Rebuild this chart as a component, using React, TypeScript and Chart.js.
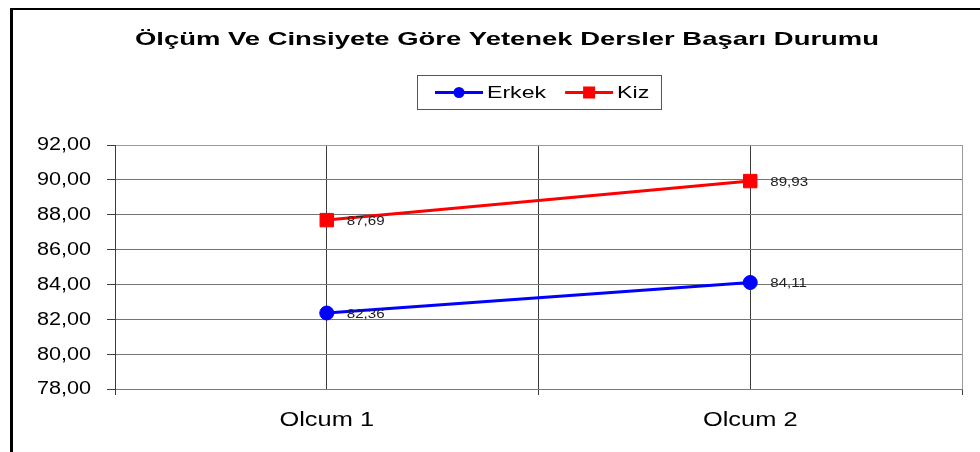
import React, { useEffect, useRef } from 'react';
import { Chart, registerables } from 'chart.js';

Chart.register(...registerables);

// ---- data ----
const TITLE = 'Ölçüm Ve Cinsiyete Göre Yetenek Dersler Başarı Durumu';
const CATEGORIES = ['Olcum 1', 'Olcum 2'];
const SERIES_NAMES = ['Erkek', 'Kiz'];
const ERKEK = [82.36, 84.11];
const KIZ = [87.69, 89.93];
const Y_MIN = 78;
const Y_MAX = 92;
const Y_STEP = 2;

// ---- style ----
const FONT = '"Liberation Sans", Arial, Helvetica, sans-serif';
const BLUE = '#0000ff';
const RED = '#ff0000';
const W = 980;
const H = 452;

const fmt = (v: number) => v.toFixed(2).replace('.', ',');

// text drawn with a horizontal stretch (the reference uses wide, stretched glyphs)
function drawText(
  ctx: CanvasRenderingContext2D,
  text: string,
  x: number,
  y: number,
  font: string,
  sx: number,
  align: CanvasTextAlign,
  color: string
) {
  ctx.save();
  ctx.font = font;
  ctx.fillStyle = color;
  ctx.textAlign = align;
  ctx.textBaseline = 'middle';
  ctx.translate(x, y);
  ctx.scale(sx, 1);
  ctx.fillText(text, 0, 0);
  ctx.restore();
}

const decorPlugin = {
  id: 'decor',
  beforeDraw(chart: any) {
    const ctx = chart.ctx;
    ctx.save();
    ctx.fillStyle = '#ffffff';
    ctx.fillRect(0, 0, chart.width, chart.height);
    ctx.fillStyle = '#000000';
    ctx.fillRect(10, 8, chart.width - 10, 2);
    ctx.fillRect(10, 8, 3, chart.height - 8);
    ctx.restore();
  },
  afterDatasetsDraw(chart: any) {
    const ctx = chart.ctx;
    chart.data.datasets.forEach((ds: any, di: number) => {
      const meta = chart.getDatasetMeta(di);
      meta.data.forEach((pt: any, i: number) => {
        const v = ds.data[i].y;
        drawText(ctx, fmt(v), pt.x + 20, pt.y + 1, `13.5px ${FONT}`, 1.12, 'left', '#222222');
      });
    });
  },
  afterDraw(chart: any) {
    const ctx = chart.ctx;
    const area = chart.chartArea;

    // axis tick labels (positions from the chart's own scales)
    const xs = chart.scales.x;
    xs.ticks.forEach((t: any) => {
      const v = Number(t.value);
      if (v % 2 !== 1) return;
      const label = CATEGORIES[(v - 1) / 2];
      drawText(ctx, label, xs.getPixelForValue(v), area.bottom + 31.5, `20px ${FONT}`, 1.27, 'center', '#000000');
    });
    const ys = chart.scales.y;
    ys.ticks.forEach((t: any) => {
      const v = Number(t.value);
      drawText(ctx, fmt(v), area.left - 24, ys.getPixelForValue(v) + 0.5, `18px ${FONT}`, 1.2, 'right', '#000000');
    });

    // title
    ctx.save();
    const titleFont = `bold 19px ${FONT}`;
    ctx.font = titleFont;
    const titleWidth = 744;
    const tsx = titleWidth / ctx.measureText(TITLE).width;
    ctx.restore();
    drawText(ctx, TITLE, 135, 39.5, titleFont, tsx, 'left', '#000000');

    // legend
    ctx.save();
    const legFont = `17px ${FONT}`;
    const lsx = 1.36;
    ctx.font = legFont;
    const lineLen = 48;
    const gapText = 4;
    const gapItem = 19;
    const padL = 17.5;
    const padR = 12;
    const items = chart.data.datasets.map((ds: any) => ({
      text: ds.label,
      color: ds.borderColor,
      style: ds.pointStyle,
      w: ctx.measureText(ds.label).width * lsx,
    }));
    let total = padL + padR;
    items.forEach((it: any, i: number) => {
      total += lineLen + gapText + it.w + (i > 0 ? gapItem : 0);
    });
    const cx = (area.left + area.right) / 2;
    const boxLeft = Math.round(cx - total / 2) + 0.5;
    const boxTop = 75.5;
    const boxH = 34;
    const cy = boxTop + boxH / 2;
    ctx.strokeStyle = '#555555';
    ctx.lineWidth = 1;
    ctx.strokeRect(boxLeft, boxTop, Math.round(total), boxH);
    let x = boxLeft + padL;
    items.forEach((it: any, i: number) => {
      if (i > 0) x += gapItem;
      ctx.strokeStyle = it.color;
      ctx.fillStyle = it.color;
      ctx.lineWidth = 3;
      ctx.beginPath();
      ctx.moveTo(x, cy);
      ctx.lineTo(x + lineLen, cy);
      ctx.stroke();
      const mx = x + lineLen / 2;
      if (it.style === 'rect') {
        ctx.fillRect(mx - 6, cy - 6, 12, 12);
      } else {
        ctx.beginPath();
        ctx.arc(mx, cy, 5.5, 0, Math.PI * 2);
        ctx.fill();
      }
      x += lineLen + gapText;
      drawText(ctx, it.text, x, cy + 0.5, legFont, lsx, 'left', '#000000');
      x += it.w;
    });
    ctx.restore();
  },
};

export default function App() {
  const ref = useRef<HTMLCanvasElement | null>(null);

  useEffect(() => {
    if (!ref.current) return;
    const xMax = CATEGORIES.length * 2;
    const chart = new Chart(ref.current, {
      type: 'line',
      data: {
        datasets: [
          {
            label: SERIES_NAMES[0],
            data: ERKEK.map((y, i) => ({ x: 2 * i + 1, y })),
            borderColor: BLUE,
            backgroundColor: BLUE,
            borderWidth: 3,
            pointStyle: 'circle',
            pointRadius: 7,
            pointBorderWidth: 1,
            pointHoverRadius: 7,
            fill: false,
            tension: 0,
          },
          {
            label: SERIES_NAMES[1],
            data: KIZ.map((y, i) => ({ x: 2 * i + 1, y })),
            borderColor: RED,
            backgroundColor: RED,
            borderWidth: 3,
            pointStyle: 'rect',
            pointRadius: 9.5,
            pointBorderWidth: 1,
            pointHoverRadius: 9.5,
            fill: false,
            tension: 0,
          },
        ],
      },
      options: {
        animation: false,
        responsive: false,
        maintainAspectRatio: false,
        devicePixelRatio: 1,
        events: [],
        layout: { padding: { top: 145, right: 18, left: 0, bottom: 0 } },
        plugins: {
          legend: { display: false },
          title: { display: false },
          tooltip: { enabled: false },
        },
        scales: {
          x: {
            type: 'linear',
            min: 0,
            max: xMax,
            afterFit: (s: any) => {
              s.height = 63;
            },
            ticks: {
              display: false,
              stepSize: 1,
              autoSkip: false,
              maxRotation: 0,
            },
            grid: {
              color: (c: any) => (c.tick && c.tick.value === xMax ? '#9a9a9a' : '#3c3c3c'),
              lineWidth: 1,
              tickLength: 6,
              tickColor: (c: any) => (c.tick && c.tick.value % 2 === 0 ? '#3c3c3c' : 'rgba(0,0,0,0)'),
            },
            border: { color: '#7a7a7a', width: 1 },
          },
          y: {
            min: Y_MIN,
            max: Y_MAX,
            afterFit: (s: any) => {
              s.width = 115;
            },
            ticks: {
              display: false,
              stepSize: Y_STEP,
            },
            grid: {
              color: (c: any) => (c.tick && c.tick.value === Y_MAX ? '#9a9a9a' : '#747474'),
              lineWidth: 1,
              tickLength: 8,
              tickColor: '#3c3c3c',
            },
            border: { color: '#3c3c3c', width: 1 },
          },
        },
      },
      plugins: [decorPlugin],
    } as any);
    return () => chart.destroy();
  }, []);

  return (
    <div style={{ position: 'fixed', left: 0, top: 0, width: W, height: H, background: '#ffffff' }}>
      <canvas ref={ref} width={W} height={H} style={{ display: 'block', width: W, height: H }} />
    </div>
  );
}
